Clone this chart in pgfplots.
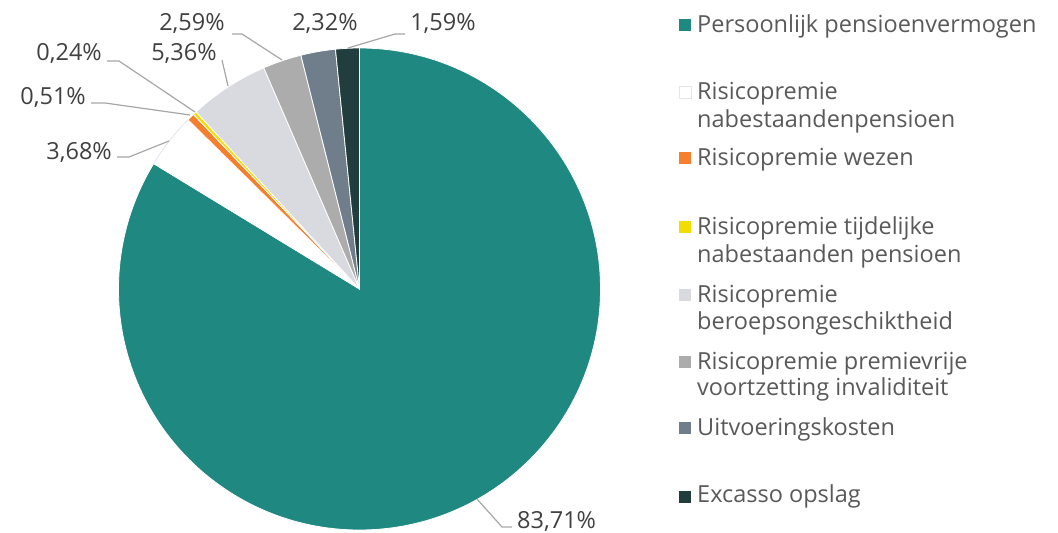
\documentclass[border=0pt]{standalone}
\usepackage{fontspec}
\setmainfont{Open Sans}
\usepackage{pgfplots}
\usepackage{pgfplotstable}
\pgfplotsset{compat=1.18}
\definecolor{cTeal}{RGB}{31,136,128}
\definecolor{cWhite}{RGB}{255,255,255}
\definecolor{cOrange}{RGB}{245,127,45}
\definecolor{cYellow}{RGB}{243,221,0}
\definecolor{cLight}{RGB}{217,218,223}
\definecolor{cGray}{RGB}{172,172,172}
\definecolor{cSlate}{RGB}{112,125,138}
\definecolor{cDark}{RGB}{34,61,61}
\definecolor{txt}{RGB}{64,64,64}
\definecolor{leg}{RGB}{89,89,89}
\definecolor{lead}{RGB}{166,166,166}
\definecolor{faint}{RGB}{228,228,240}

\pgfplotstableread{
value col
83.71 cTeal
3.68 cWhite
0.51 cOrange
0.24 cYellow
5.36 cLight
2.59 cGray
2.32 cSlate
1.59 cDark
}\piedata

\begin{document}
\begin{tikzpicture}
\begin{axis}[scale only axis, width=1058pt, height=533pt,
  xmin=0, xmax=1058, ymin=0, ymax=533, hide axis, clip=false]
\xdef\cum{0}
\pgfplotsforeachungrouped \i in {0,...,7}{%
  \pgfplotstablegetelem{\i}{value}\of\piedata \let\pv\pgfplotsretval
  \pgfplotstablegetelem{\i}{col}\of\piedata \let\pc\pgfplotsretval
  \pgfmathsetmacro\aa{90-3.6*\cum}%
  \pgfmathsetmacro\bb{90-3.6*(\cum+\pv)}%
  \edef\temp{\noexpand\fill[fill=\pc, draw=white, line width=0.8pt, line join=round]
    (axis cs:359.5,244) -- ++(\aa:241pt) arc[start angle=\aa, end angle=\bb, radius=241pt] -- cycle;}%
  \temp
  \ifnum\i=1
    \edef\temp{\noexpand\draw[faint, line width=0.8pt]
      (axis cs:359.5,244) ++(\aa:241pt) arc[start angle=\aa, end angle=\bb, radius=241pt];}%
    \temp
  \fi
  \pgfmathsetmacro\nc{\cum+\pv}%
  \xdef\cum{\nc}%
}
% leader lines
\draw[lead, line width=1.2pt] (axis cs:477,34) -- (axis cs:502,6) -- (axis cs:512,6);
\draw[lead, line width=1.2pt] (axis cs:169,392) -- (axis cs:129,376) -- (axis cs:117,376);
\draw[lead, line width=1.2pt] (axis cs:190,418) -- (axis cs:105,430) -- (axis cs:91,430);
\draw[lead, line width=1.2pt] (axis cs:195,421) -- (axis cs:119,472) -- (axis cs:107,472);
\draw[lead, line width=1.2pt] (axis cs:222,473) -- (axis cs:228,447);
\draw[lead, line width=1.2pt] (axis cs:232,499) -- (axis cs:242,499) -- (axis cs:282,473);
\draw[lead, line width=1.2pt] (axis cs:405,499) -- (axis cs:395,499) -- (axis cs:348,485);
% data labels
\tikzset{lab/.style={text=txt, inner sep=0pt, font=\fontsize{23.5}{28}\selectfont}}
\node[lab, anchor=base west] at (axis cs:517,4) {83,71\%};
\node[lab, anchor=base east] at (axis cs:112,373) {3,68\%};
\node[lab, anchor=base east] at (axis cs:86,428) {0,51\%};
\node[lab, anchor=base east] at (axis cs:102,472) {0,24\%};
\node[lab, anchor=base] at (axis cs:184,472) {5,36\%};
\node[lab, anchor=base] at (axis cs:192,502) {2,59\%};
\node[lab, anchor=base] at (axis cs:325,502) {2,32\%};
\node[lab, anchor=base] at (axis cs:443,502) {1,59\%};
% legend
\tikzset{lg/.style={text=leg, inner sep=0pt, anchor=base west, font=\fontsize{23.5}{28}\selectfont}}
\fill[cTeal] (axis cs:679,502) rectangle (axis cs:691,514);
\fill[white, draw=faint] (axis cs:679,435) rectangle (axis cs:691,447);
\fill[cOrange] (axis cs:679,369) rectangle (axis cs:691,381);
\fill[cYellow] (axis cs:679,300) rectangle (axis cs:691,312);
\fill[cLight] (axis cs:679,232) rectangle (axis cs:691,244);
\fill[cGray] (axis cs:679,165) rectangle (axis cs:691,177);
\fill[cSlate] (axis cs:679,99) rectangle (axis cs:691,111);
\fill[cDark] (axis cs:679,30) rectangle (axis cs:691,42);
\node[lg] at (axis cs:697,500) {Persoonlijk pensioenvermogen};
\node[lg] at (axis cs:697,433) {Risicopremie};
\node[lg] at (axis cs:697,405) {nabestaandenpensioen};
\node[lg] at (axis cs:697,367) {Risicopremie wezen};
\node[lg] at (axis cs:697,298) {Risicopremie tijdelijke};
\node[lg] at (axis cs:697,270) {nabestaanden pensioen};
\node[lg] at (axis cs:697,230) {Risicopremie};
\node[lg] at (axis cs:697,203) {beroepsongeschiktheid};
\node[lg] at (axis cs:697,163) {Risicopremie premievrije};
\node[lg] at (axis cs:697,137) {voortzetting invaliditeit};
\node[lg] at (axis cs:697,97) {Uitvoeringskosten};
\node[lg] at (axis cs:697,30) {Excasso opslag};
\end{axis}
\pgfresetboundingbox
\useasboundingbox (current axis.south west) rectangle (current axis.north east);
\end{tikzpicture}
\end{document}
